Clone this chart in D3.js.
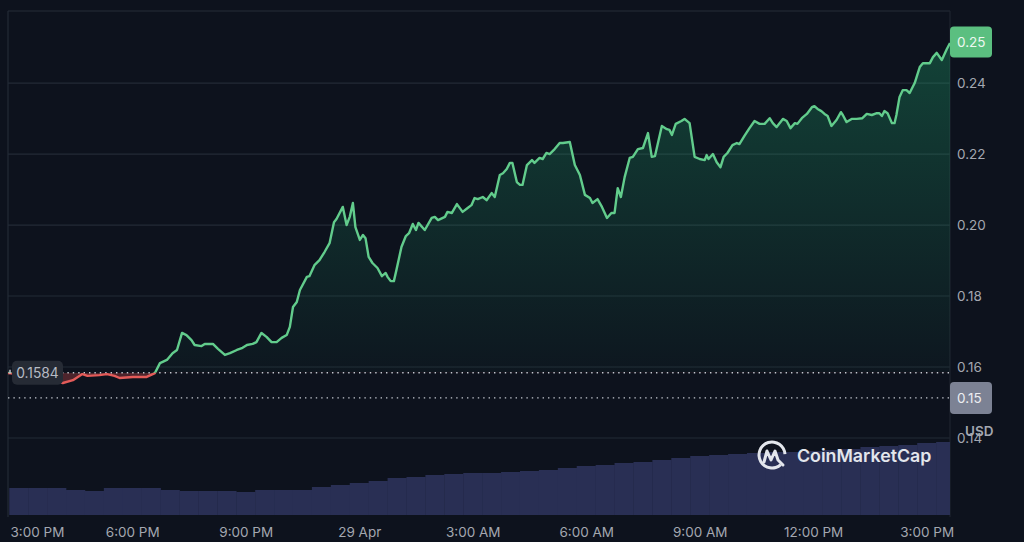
<!DOCTYPE html>
<html>
<head>
<meta charset="utf-8">
<script src="https://cdn.jsdelivr.net/npm/d3@7"></script>
<style>
  html, body { margin: 0; padding: 0; background: #0d121d; }
  svg { display: block; font-family: Inter, "Noto Sans", sans-serif; }
</style>
</head>
<body>
<svg id="chart" width="1024" height="542"></svg>
<script>
// ---------------- data ----------------
// minutes after 28 Apr 15:00
const priceMinutes = [-17,17,49,70,86,101,109,128,140,152,160,181,203,216,
  224,235,244,251,259,266,274,279,290,295,308,316,327,335,346,355,362,371,377,385,393,401,409,417,425,430,435,441,446,457,461,469,477,485,
  493,500,504,514,520,525,530,534,541,546,550,555,561,569,576,582,585,590,595,599,607,614,619,625,630,634,644,655,660,665,676,680,687,695,704,712,718,723,728,736,742,750,755,763,768,774,779,783,
  790,795,799,806,814,818,826,831,837,842,850,858,863,874,882,890,898,906,910,918,925,933,940,945,950,955,961,969,974,982,990,998,1004,1009,1020,1028,1032,1036,1042,1051,1056,1064,1072,
  1080,1088,1091,1094,1101,1107,1113,1118,1124,1132,1139,1143,1151,1159,1167,1175,1183,1191,1196,1202,1212,1218,1224,1231,1235,1242,1250,1258,1262,1267,1273,1278,1283,1289,1297,1304,1307,1313,1321,1329,1338,1345,1353,1361,1365,1369,1373,1378,1385,1389,1392,1397,1402,1408,1413,1421,1429,1434,1445,1450,1456,1464,1472,1477];
const priceValues = [0.1583,0.1577,0.1563,0.1555,0.1563,0.1580,0.1575,0.1577,0.1580,0.1575,0.1569,0.1572,0.1572,0.1583,
  0.1611,0.1620,0.1639,0.1648,0.1696,0.1690,0.1676,0.1662,0.1659,0.1665,0.1665,0.1651,0.1634,0.1639,0.1648,0.1654,0.1662,0.1665,0.1670,0.1696,0.1685,0.1670,0.1670,0.1682,0.1690,0.1713,0.1769,0.1783,0.1817,0.1854,0.1856,0.1887,0.1901,0.1924,
  0.1949,0.2008,0.2017,0.2051,0.2000,0.2023,0.2062,0.1994,0.1958,0.1972,0.1963,0.1910,0.1893,0.1879,0.1856,0.1865,0.1854,0.1842,0.1842,0.1873,0.1938,0.1969,0.1977,0.2003,0.1986,0.2006,0.1986,0.2020,0.2023,0.2014,0.2023,0.2037,0.2034,0.2059,0.2037,0.2048,0.2056,0.2076,0.2073,0.2079,0.2070,0.2090,0.2079,0.2141,0.2146,0.2158,0.2175,0.2175,
  0.2121,0.2113,0.2113,0.2169,0.2183,0.2175,0.2189,0.2186,0.2203,0.2200,0.2214,0.2231,0.2231,0.2234,0.2169,0.2141,0.2085,0.2076,0.2062,0.2073,0.2051,0.2020,0.2034,0.2034,0.2104,0.2079,0.2135,0.2189,0.2192,0.2214,0.2217,0.2259,0.2192,0.2194,0.2279,0.2270,0.2268,0.2254,0.2285,0.2293,0.2299,0.2287,0.2192,
  0.2186,0.2183,0.2197,0.2186,0.2200,0.2177,0.2163,0.2192,0.2203,0.2225,0.2231,0.2228,0.2251,0.2273,0.2293,0.2285,0.2285,0.2301,0.2287,0.2276,0.2299,0.2293,0.2273,0.2287,0.2285,0.2301,0.2313,0.2332,0.2335,0.2327,0.2321,0.2313,0.2307,0.2279,0.2296,0.2318,0.2310,0.2290,0.2299,0.2299,0.2301,0.2313,0.2310,0.2315,0.2315,0.2307,0.2321,0.2315,0.2287,0.2287,0.2310,0.2361,0.2380,0.2380,0.2372,0.2400,0.2445,0.2456,0.2456,0.2473,0.2485,0.2465,0.2496,0.2513];

// volume (relative units), 30-minute buckets starting at minute -15
const volumeMinutes = [-15,15,45,75,105,135,165,195,225,255,285,315,345,375,405,435,465,495,525,555,585,615,645,675,705,735,765,795,825,855,885,915,945,975,1005,1035,1065,1095,1125,1155,1185,1215,1245,1275,1305,1335,1365,1395,1425,1455];
const volumeValues = [27,27,27,25,24,27,27,27,25,24,24,24,23,25,25,25,28,30,32,34,37,38,40,41,42,42,43,44,45,47,49,50,52,53,55,57,59,60,61,62,63,63,64,65,66,68,69,70,72,73];

const yTickValues = [0.14, 0.16, 0.18, 0.20, 0.22, 0.24];
const xTickHours = [0, 3, 6, 9, 12, 15, 18, 21, 24];
const xTickLabels = ["3:00 PM", "6:00 PM", "9:00 PM", "29 Apr", "3:00 AM", "6:00 AM", "9:00 AM", "12:00 PM", "3:00 PM"];
const openPrice = 0.1584;
const openLabel = "0.1584";
const markerPrice = 0.1513;
const markerLabel = "0.15";
const lastLabel = "0.25";
const unitLabel = "USD";
const brand = "CoinMarketCap";

// ---------------- setup ----------------
const t0 = Date.UTC(2024, 3, 28, 15, 0);
const toDate = m => new Date(t0 + m * 60000);
const prices = priceMinutes.map((m, i) => ({ t: toDate(m), v: priceValues[i] }));
const vols = volumeMinutes.map((m, i) => ({ t: toDate(m), t1: toDate(m + 30), v: volumeValues[i] }));

const L = 8, R = 950, TOP = 11, VB = 515;
const svg = d3.select("#chart");
svg.append("rect").attr("width", 1024).attr("height", 542).attr("fill", "#0d121d");

const x = d3.scaleUtc().domain(d3.extent(prices, d => d.t)).range([L, R]);
const y = d3.scaleLinear().domain([0.14, 0.2603]).range([438, TOP]);
const yv = d3.scaleLinear().domain([0, 100]).range([VB, VB - 100]);

const defs = svg.append("defs");
defs.append("clipPath").attr("id", "plotClip").append("rect")
  .attr("x", L).attr("y", TOP).attr("width", R - L).attr("height", VB - TOP);
defs.append("clipPath").attr("id", "above").append("rect")
  .attr("x", L).attr("y", 0).attr("width", R - L + 2).attr("height", y(openPrice));
defs.append("clipPath").attr("id", "below").append("rect")
  .attr("x", L).attr("y", y(openPrice)).attr("width", R - L).attr("height", VB - y(openPrice));
const gGreen = defs.append("linearGradient").attr("id", "gGreen")
  .attr("gradientUnits", "userSpaceOnUse").attr("x1", 0).attr("x2", 0).attr("y1", TOP).attr("y2", y(openPrice));
gGreen.append("stop").attr("offset", 0).attr("stop-color", "#1fae72").attr("stop-opacity", 0.34);
gGreen.append("stop").attr("offset", 1).attr("stop-color", "#1fae72").attr("stop-opacity", 0.03);

// ---------------- grid ----------------
const grid = svg.append("g");
grid.selectAll("line.h").data(yTickValues).join("line")
  .attr("x1", L).attr("x2", R).attr("y1", d => y(d)).attr("y2", d => y(d))
  .attr("stroke", "#232a36").attr("stroke-width", 1.2);
grid.append("line").attr("x1", L).attr("x2", R).attr("y1", TOP).attr("y2", TOP)
  .attr("stroke", "#262d39").attr("stroke-width", 1.2);
grid.append("line").attr("x1", L).attr("x2", L).attr("y1", TOP).attr("y2", VB + 2)
  .attr("stroke", "#232a36").attr("stroke-width", 1.2);
grid.append("line").attr("x1", R).attr("x2", R).attr("y1", TOP).attr("y2", VB + 2)
  .attr("stroke", "#1e2430").attr("stroke-width", 1.2);

// ---------------- volume ----------------
svg.append("g").attr("clip-path", "url(#plotClip)")
  .selectAll("rect").data(vols).join("rect")
  .attr("x", d => x(d.t))
  .attr("width", d => x(d.t1) - x(d.t) + 0.3)
  .attr("y", d => yv(d.v))
  .attr("height", d => VB - yv(d.v))
  .attr("fill", "#292f54");

// ---------------- logo ----------------
const logo = svg.append("g").attr("transform", "translate(772,455)");
logo.append("path")
  .attr("d", d3.arc()({ innerRadius: 11.5, outerRadius: 14.5, startAngle: 2.4, endAngle: 2.4 + 2 * Math.PI - 0.9 }))
  .attr("fill", "#e3e6ec");
logo.append("path")
  .attr("d", "M-8,7 L-5,-4 L-1,5 L3,-4 L6,5 L11,10")
  .attr("fill", "none").attr("stroke", "#e3e6ec").attr("stroke-width", 3)
  .attr("stroke-linejoin", "round").attr("stroke-linecap", "round");
svg.append("text").attr("x", 797).attr("y", 462).text(brand)
  .attr("fill", "#e3e6ec").attr("font-size", 17.8).attr("font-weight", 600);

// ---------------- price area & line ----------------
const area = d3.area().x(d => x(d.t)).y0(y(openPrice)).y1(d => y(d.v));
const line = d3.line().x(d => x(d.t)).y(d => y(d.v));
svg.append("path").datum(prices).attr("d", area).attr("fill", "url(#gGreen)").attr("clip-path", "url(#above)");
svg.append("path").datum(prices).attr("d", area).attr("fill", "#e0504e").attr("fill-opacity", 0.3).attr("clip-path", "url(#below)");

// dotted reference lines
svg.append("line").attr("x1", L).attr("x2", R).attr("y1", y(openPrice)).attr("y2", y(openPrice))
  .attr("stroke", "#c4c8d0").attr("stroke-width", 1.4).attr("stroke-dasharray", "1.4,4");
svg.append("line").attr("x1", L).attr("x2", R).attr("y1", y(markerPrice)).attr("y2", y(markerPrice))
  .attr("stroke", "#c4c8d0").attr("stroke-width", 1.4).attr("stroke-dasharray", "1.4,4");

svg.append("path").datum(prices).attr("d", line).attr("fill", "none")
  .attr("stroke", "#62cc8c").attr("stroke-width", 2.4).attr("stroke-linejoin", "round").attr("clip-path", "url(#above)");
svg.append("path").datum(prices).attr("d", line).attr("fill", "none")
  .attr("stroke", "#e35b59").attr("stroke-width", 2.4).attr("stroke-linejoin", "round").attr("clip-path", "url(#below)");

// open price label
const ol = svg.append("g").attr("transform", `translate(12,${y(openPrice)})`);
ol.append("rect").attr("x", 0).attr("y", -12).attr("width", 51).attr("height", 24).attr("rx", 5).attr("fill", "#262b35");
ol.append("text").attr("x", 25.5).attr("y", 0).attr("dy", "0.35em").attr("text-anchor", "middle")
  .attr("fill", "#b8bcc5").attr("font-size", 13.8).text(openLabel);
svg.append("line").attr("x1", 10).attr("x2", 10).attr("y1", y(openPrice) - 3).attr("y2", y(openPrice) + 1)
  .attr("stroke", "#c4c8d0").attr("stroke-width", 1.5);

// ---------------- y axis ----------------
const yAxis = svg.append("g").attr("transform", `translate(${R},0)`)
  .call(d3.axisRight(y).tickValues(yTickValues).tickFormat(d3.format(".2f")).tickSize(0).tickPadding(7));
yAxis.select(".domain").remove();
yAxis.selectAll("text").attr("fill", "#a3a7b0").attr("font-size", 13.5).attr("font-family", "Inter, sans-serif");

svg.append("text").attr("x", 965).attr("y", 431).attr("dy", "0.35em").text(unitLabel)
  .attr("fill", "#a3a7b0").attr("font-size", 13.5).attr("font-weight", 600);

// price tags on right
const last = prices[prices.length - 1];
const tagLast = svg.append("g").attr("transform", `translate(${R},${y(last.v) - 1})`);
tagLast.append("rect").attr("x", 0).attr("y", -15.5).attr("width", 42).attr("height", 31).attr("rx", 4).attr("fill", "#5bbf80");
tagLast.append("text").attr("x", 7).attr("y", 0).attr("dy", "0.35em").attr("fill", "#eef8f1").attr("font-size", 13.5).text(lastLabel);

const tagMark = svg.append("g").attr("transform", `translate(${R},${y(markerPrice)})`);
tagMark.append("rect").attr("x", 0).attr("y", -16).attr("width", 42).attr("height", 32).attr("rx", 4).attr("fill", "#7c8294");
tagMark.append("text").attr("x", 7).attr("y", 0).attr("dy", "0.35em").attr("fill", "#eceef2").attr("font-size", 13.5).text(markerLabel);

// ---------------- x axis ----------------
const xTickDates = xTickHours.map(h => toDate(h * 60));
const xAxis = svg.append("g").attr("transform", `translate(0,${VB + 12})`)
  .call(d3.axisBottom(x).tickValues(xTickDates).tickFormat((d, i) => xTickLabels[i]).tickSize(0).tickPadding(0));
xAxis.select(".domain").remove();
xAxis.selectAll("text").attr("fill", "#a3a7b0").attr("font-size", 13.5).attr("font-family", "Inter, sans-serif").attr("dy", "0.72em");
xAxis.selectAll(".tick").each(function () {
  const g = d3.select(this);
  const bb = this.getBBox();
  const tx = x(d3.select(this).datum());
  if (tx + bb.x < 10) g.select("text").attr("x", 10 - (tx + bb.x));
});
</script>
</body>
</html>
